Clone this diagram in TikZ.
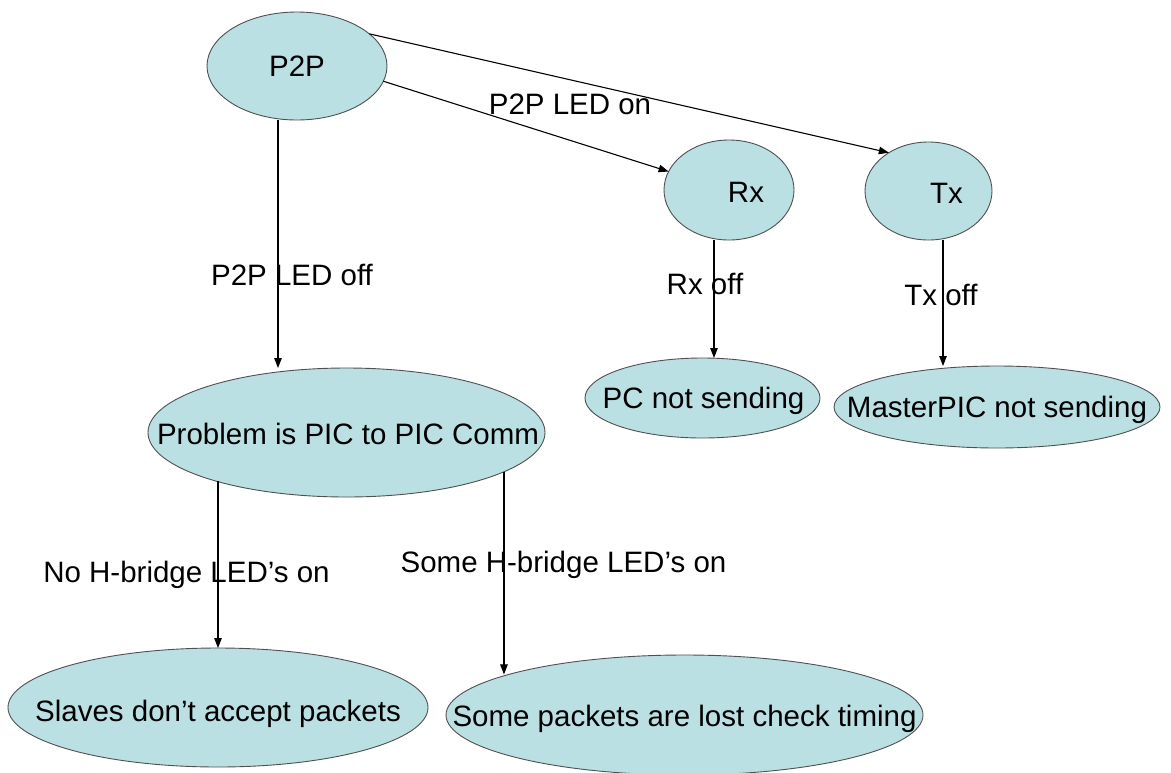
\documentclass[tikz,border=0pt]{standalone}
\usepackage{fontspec}
\setmainfont{Liberation Sans}
\usetikzlibrary{shapes.geometric,arrows.meta}

\definecolor{bubblefill}{RGB}{186,224,228}
\definecolor{bubbleline}{RGB}{80,80,80}

\tikzset{
  bubble/.style={ellipse, draw=bubbleline, fill=bubblefill, line width=0.9pt,
                 inner sep=0pt, outer sep=0pt},
  txt/.style={font=\fontsize{29.5}{34}\selectfont, text height=21pt, text depth=0pt,
              inner sep=0pt, text=black},
  cond/.style={font=\fontsize{29.5}{34}\selectfont, inner sep=0pt, anchor=base, text=black},
  link/.style={draw=black, line width=1.1pt, -{Triangle[length=10pt,width=7.5pt]}}
}

\begin{document}
\begin{tikzpicture}[x=1pt, y=-1pt]
  \useasboundingbox (0,0) rectangle (1171,772);
  \fill[white] (0,0) rectangle (1171,772);

  % decision bubbles (size given by minimum width/height, text set as a centred label)
  \node[bubble, minimum width=180pt, minimum height=108pt,
        label={[txt]center:P2P}] (P2P) at (297,66) {};
  \node[bubble, minimum width=130pt, minimum height=100pt,
        label={[txt, xshift=17pt, yshift=-2pt]center:Rx}] (Rx) at (729,190) {};
  \node[bubble, minimum width=127pt, minimum height=98pt,
        label={[txt, xshift=18pt, yshift=-2pt]center:Tx}] (Tx) at (928.5,191) {};
  \node[bubble, minimum width=235pt, minimum height=80pt,
        label={[txt, xshift=1pt]center:PC not sending}] (PC) at (702.5,398) {};
  \node[bubble, minimum width=326pt, minimum height=82pt,
        label={[txt]center:MasterPIC not sending}] (Master) at (997,407) {};
  \node[bubble, minimum width=397pt, minimum height=129pt,
        label={[txt, xshift=1.5pt, yshift=-1.5pt]center:Problem is PIC to PIC Comm}] (Problem) at (346.5,432.5) {};
  \node[bubble, minimum width=420pt, minimum height=119pt,
        label={[txt, yshift=-3.5pt]center:Slaves don’t accept packets}] (Slaves) at (218,707.5) {};
  \node[bubble, minimum width=477pt, minimum height=120pt,
        label={[txt, yshift=-1pt]center:Some packets are lost check timing}] (Some) at (684.5,715) {};

  % connectors
  \draw[link] ([xshift=-19pt]P2P.south) -- ([xshift=-19pt]P2P.south |- Problem.north);
  \draw[link] (P2P.-10) -- (Rx.163);
  \draw[link] (P2P.24) -- (Tx.136);
  \draw[link] ([xshift=-15pt]Rx.south) -- ([xshift=-15pt]Rx.south |- PC.north);
  \draw[link] ([xshift=14.5pt]Tx.south) -- ([xshift=14.5pt]Tx.south |- Master.north);
  \draw[link] (Problem.-160 -| Slaves.north) -- (Slaves.north);
  \draw[link] (Problem.-14) -- (Problem.-14 |- Some.167);

  % condition labels
  \node[cond] (lOff)   at (292,285.5) {P2P LED off};
  \node[cond] (lOn)    at (570,114)   {P2P LED on};
  \node[cond] (lRx)    at (705,294)   {Rx off};
  \node[cond] (lTx)    at (941,305)   {Tx off};
  \node[cond] (lNoH)   at (186.5,582) {No H-bridge LED’s on};
  \node[cond] (lSomeH) at (563.5,572) {Some H-bridge LED’s on};
\end{tikzpicture}
\end{document}
